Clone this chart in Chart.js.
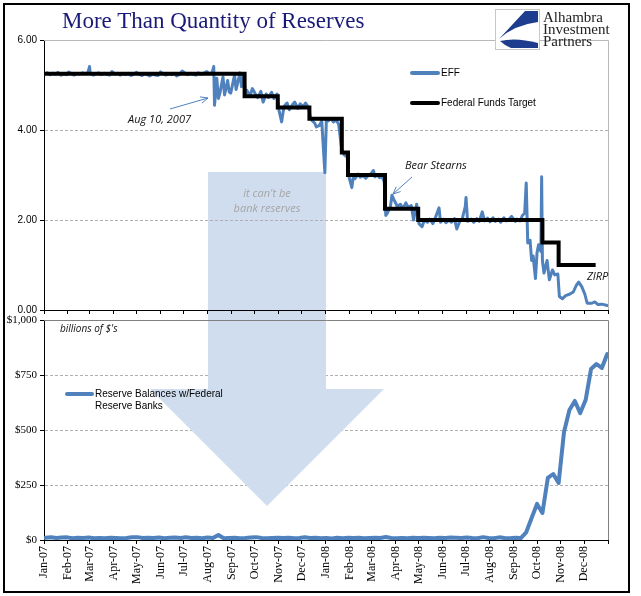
<!DOCTYPE html>
<html><head><meta charset="utf-8">
<script src="https://cdn.jsdelivr.net/npm/chart.js@4.4.1/dist/chart.umd.min.js"></script>
<style>
html,body{margin:0;padding:0;background:#fff;}
#wrap{position:relative;width:641px;height:596px;overflow:hidden;background:#fff;}
#frame{position:absolute;left:3px;top:3px;width:627px;height:590px;border:2px solid #000;box-sizing:border-box;pointer-events:none;z-index:5;}
canvas{position:absolute;left:0;}
#cTop{top:0;z-index:2;}
#cBot{top:306px;z-index:1;}
.t{position:absolute;white-space:nowrap;z-index:4;}
.lg{font-family:"Liberation Sans",Arial,sans-serif;font-size:10px;color:#000;line-height:12px;}
.an{font-family:"Open Sans",sans-serif;font-style:italic;font-size:11px;color:#111;line-height:14px;}
.sw{position:absolute;height:4px;border-radius:2px;z-index:4;}
</style>
</head><body>
<div id="wrap">
  <canvas id="cBot" width="641" height="290"></canvas>
  <canvas id="cTop" width="641" height="320"></canvas>

  <div class="t" style="left:62px;top:9px;font-family:'Liberation Serif',serif;font-size:23px;line-height:23px;color:#1a1a78;">More Than Quantity of Reserves</div>

  <div class="t" style="left:495px;top:9px;width:45px;height:41px;background:#fff;border:1px solid #c8c8c8;box-sizing:border-box;">
    <svg width="43" height="39" viewBox="0 0 43 39" style="position:absolute;left:0;top:0">
      <path d="M29,1 L42,1 L42,12 Q18,15 3,29 Z" fill="#1f3d8f"/>
      <path d="M4,31 Q20,27 42,33 L42,38 L15,38 Q8,35 4,31 Z" fill="#1f3d8f"/>
    </svg>
  </div>
  <div class="t" style="left:543px;top:11px;font-family:'Liberation Serif',serif;font-size:15px;line-height:12px;color:#222;">Alhambra<br>Investment<br>Partners</div>

  <div class="sw" style="left:410px;top:71px;width:30px;background:#4f81bd;"></div>
  <div class="t lg" style="left:441px;top:67px;">EFF</div>
  <div class="sw" style="left:410px;top:101px;width:30px;background:#000;"></div>
  <div class="t lg" style="left:441px;top:97px;">Federal Funds Target</div>

  <div class="t an" style="left:128px;top:112px;">Aug 10, 2007</div>
  <div class="t an" style="left:405px;top:158px;">Bear Stearns</div>
  <div class="t an" style="left:587px;top:269px;">ZIRP</div>
  <div class="t an" style="left:60px;top:321px;font-size:10px;">billions of $'s</div>
  <div class="t an" style="left:207px;top:185px;width:120px;text-align:center;color:#a5a5a5;line-height:15px;">it can't be<br>bank reserves</div>

  <div class="sw" style="left:65px;top:392px;width:29px;background:#4f81bd;"></div>
  <div class="t lg" style="left:95px;top:388px;">Reserve Balances w/Federal<br>Reserve Banks</div>

  <div id="frame"></div>
</div>
<script>
// ---------- DATA ----------
const monthLabels = ['Jan-07','Feb-07','Mar-07','Apr-07','May-07','Jun-07','Jul-07','Aug-07','Sep-07','Oct-07','Nov-07','Dec-07',
                     'Jan-08','Feb-08','Mar-08','Apr-08','May-08','Jun-08','Jul-08','Aug-08','Sep-08','Oct-08','Nov-08','Dec-08'];
const rateTickLabels = ['0.00','2.00','4.00','6.00'];
const reserveTickLabels = ['$0','$250','$500','$750','$1,000'];

const targetDates  = ['2007-01-01','2007-09-18','2007-10-31','2007-12-11','2008-01-22','2008-01-30','2008-03-18','2008-04-30','2008-10-08','2008-10-29','2008-12-16'];
const targetValues = [5.25,4.75,4.50,4.25,3.50,3.00,2.25,2.00,1.50,1.00,1.00];

const effDates = [
'2007-01-02','2007-01-05','2007-01-09','2007-01-12','2007-01-16','2007-01-19','2007-01-23','2007-01-26','2007-01-30',
'2007-02-02','2007-02-06','2007-02-09','2007-02-13','2007-02-16','2007-02-20','2007-02-23','2007-02-27',
'2007-03-01','2007-03-02','2007-03-06','2007-03-09','2007-03-13','2007-03-16','2007-03-20','2007-03-23','2007-03-27','2007-03-30',
'2007-04-03','2007-04-06','2007-04-10','2007-04-13','2007-04-17','2007-04-20','2007-04-24','2007-04-27',
'2007-05-01','2007-05-04','2007-05-08','2007-05-11','2007-05-15','2007-05-18','2007-05-22','2007-05-25','2007-05-29',
'2007-06-01','2007-06-05','2007-06-08','2007-06-12','2007-06-15','2007-06-19','2007-06-22','2007-06-26','2007-06-29',
'2007-07-03','2007-07-06','2007-07-10','2007-07-13','2007-07-17','2007-07-20','2007-07-24','2007-07-27','2007-07-31',
'2007-08-03','2007-08-07','2007-08-09','2007-08-10','2007-08-13','2007-08-15','2007-08-17','2007-08-21','2007-08-23','2007-08-27','2007-08-29','2007-08-31',
'2007-09-05','2007-09-07','2007-09-12','2007-09-14','2007-09-17','2007-09-19','2007-09-21','2007-09-25','2007-09-28',
'2007-10-02','2007-10-05','2007-10-09','2007-10-12','2007-10-16','2007-10-19','2007-10-23','2007-10-26','2007-10-30',
'2007-11-01','2007-11-05','2007-11-08','2007-11-12','2007-11-15','2007-11-19','2007-11-22','2007-11-26','2007-11-29',
'2007-12-03','2007-12-06','2007-12-10','2007-12-12','2007-12-14','2007-12-18','2007-12-20','2007-12-24','2007-12-27','2007-12-31',
'2008-01-02','2008-01-04','2008-01-08','2008-01-11','2008-01-15','2008-01-18','2008-01-22','2008-01-25','2008-01-29','2008-01-31',
'2008-02-04','2008-02-06','2008-02-08','2008-02-12','2008-02-15','2008-02-19','2008-02-22','2008-02-26','2008-02-29',
'2008-03-03','2008-03-05','2008-03-07','2008-03-11','2008-03-13','2008-03-17','2008-03-19','2008-03-21','2008-03-25','2008-03-27','2008-03-31',
'2008-04-03','2008-04-07','2008-04-10','2008-04-14','2008-04-17','2008-04-21','2008-04-24','2008-04-28',
'2008-05-01','2008-05-05','2008-05-08','2008-05-12','2008-05-15','2008-05-19','2008-05-22','2008-05-27','2008-05-29',
'2008-06-02','2008-06-05','2008-06-09','2008-06-12','2008-06-16','2008-06-19','2008-06-23','2008-06-26','2008-06-30',
'2008-07-01','2008-07-03','2008-07-08','2008-07-11','2008-07-15','2008-07-18','2008-07-22','2008-07-25','2008-07-29',
'2008-08-01','2008-08-05','2008-08-08','2008-08-12','2008-08-15','2008-08-19','2008-08-22','2008-08-26','2008-08-29',
'2008-09-03','2008-09-05','2008-09-09','2008-09-12','2008-09-15','2008-09-17','2008-09-19','2008-09-22','2008-09-24','2008-09-26','2008-09-29',
'2008-10-01','2008-10-03','2008-10-06','2008-10-07','2008-10-08','2008-10-10','2008-10-14','2008-10-17','2008-10-21','2008-10-24','2008-10-28','2008-10-30',
'2008-11-03','2008-11-07','2008-11-12','2008-11-17','2008-11-21','2008-11-24','2008-11-28',
'2008-12-02','2008-12-05','2008-12-11','2008-12-15','2008-12-19','2008-12-24','2008-12-31'
];
const effValues = [
5.24,5.27,5.23,5.26,5.24,5.28,5.22,5.25,5.23,
5.29,5.25,5.22,5.26,5.24,5.27,5.25,5.28,
5.41,5.26,5.22,5.25,5.27,5.23,5.26,5.24,5.22,5.30,
5.24,5.26,5.22,5.25,5.23,5.26,5.21,5.24,
5.28,5.24,5.21,5.25,5.23,5.20,5.24,5.22,5.21,
5.29,5.24,5.22,5.25,5.23,5.26,5.20,5.24,5.31,
5.26,5.23,5.26,5.24,5.22,5.27,5.24,5.26,5.30,
5.25,5.28,5.41,4.55,5.15,4.70,4.82,5.18,4.78,5.10,4.85,4.82,
5.22,4.90,5.27,4.96,5.22,4.80,4.88,4.76,4.92,
4.80,4.72,4.86,4.62,4.80,4.72,4.84,4.70,4.80,
4.48,4.18,4.52,4.60,4.45,4.56,4.62,4.48,4.58,
4.52,4.60,4.50,4.30,4.22,4.15,4.07,4.10,4.20,3.05,
4.25,4.20,4.26,4.18,4.22,4.12,3.55,3.45,3.40,2.98,
2.72,2.98,2.92,3.02,2.95,2.98,2.93,3.00,3.03,
3.10,2.96,3.01,2.94,3.00,2.85,2.10,2.15,2.30,2.55,2.40,
2.30,2.35,2.25,2.38,2.28,2.32,2.00,2.35,
1.92,1.85,2.00,1.95,2.02,1.92,2.04,2.27,1.95,
2.02,1.94,2.00,1.95,2.03,1.80,1.98,2.02,2.30,
2.50,1.97,2.02,1.95,2.03,1.97,2.18,1.98,2.04,
1.96,2.05,1.97,2.02,1.95,2.05,1.98,2.02,2.08,
1.97,2.02,1.98,2.10,2.15,2.82,1.49,1.55,1.10,1.20,0.70,
1.27,1.45,1.30,2.96,1.10,0.82,1.10,0.67,0.89,0.78,0.80,0.30,
0.25,0.32,0.35,0.40,0.55,0.62,0.52,
0.35,0.15,0.15,0.18,0.12,0.13,0.10
];

const reserveDates = [
'2007-01-03','2007-01-10','2007-01-17','2007-01-24','2007-01-31','2007-02-07','2007-02-14','2007-02-21','2007-02-28',
'2007-03-07','2007-03-14','2007-03-21','2007-03-28','2007-04-04','2007-04-11','2007-04-18','2007-04-25',
'2007-05-02','2007-05-09','2007-05-16','2007-05-23','2007-05-30','2007-06-06','2007-06-13','2007-06-20','2007-06-27',
'2007-07-04','2007-07-11','2007-07-18','2007-07-25','2007-08-01','2007-08-08','2007-08-15','2007-08-22','2007-08-29',
'2007-09-05','2007-09-12','2007-09-19','2007-09-26','2007-10-03','2007-10-10','2007-10-17','2007-10-24','2007-10-31',
'2007-11-07','2007-11-14','2007-11-21','2007-11-28','2007-12-05','2007-12-12','2007-12-19','2007-12-26',
'2008-01-02','2008-01-09','2008-01-16','2008-01-23','2008-01-30','2008-02-06','2008-02-13','2008-02-20','2008-02-27',
'2008-03-05','2008-03-12','2008-03-19','2008-03-26','2008-04-02','2008-04-09','2008-04-16','2008-04-23','2008-04-30',
'2008-05-07','2008-05-14','2008-05-21','2008-05-28','2008-06-04','2008-06-11','2008-06-18','2008-06-25',
'2008-07-02','2008-07-09','2008-07-16','2008-07-23','2008-07-30','2008-08-06','2008-08-13','2008-08-20','2008-08-27',
'2008-09-03','2008-09-10','2008-09-17','2008-09-24','2008-10-01','2008-10-08','2008-10-15','2008-10-22','2008-10-29',
'2008-11-05','2008-11-12','2008-11-19','2008-11-26','2008-12-03','2008-12-10','2008-12-17','2008-12-24','2008-12-31'
];
const reserveValues = [
10,12,9,11,12, 8,10,9,11,
8,9,8,10, 9,8,9,12,
13,9,10,9,11, 8,10,11,9,
12,9,10,8, 11,9,23,8,9,
10,8,9,11, 13,9,8,9,10,
9,10,8,9, 12,9,10,8,
9,7,10,8,10, 9,10,8,9,
10,9,14,9, 8,9,8,10,9,
10,9,8,10, 9,11,10,9,
11,9,8,13,9, 8,12,9,8,
10,9,35,100, 164,123,282,300,259,
491,591,632,577, 636,777,800,782,845
];

// ---------- HELPERS ----------
const T0 = Date.UTC(2007,0,1), DAY = 86400000;
const dayOf = s => (Date.parse(s) - T0) / DAY;
const xMax = (Date.UTC(2009,0,1) - T0) / DAY;
const monthTicks = [];
for (let m = 0; m <= 24; m++) monthTicks.push((Date.UTC(2007, m, 1) - T0) / DAY);
const pts = (dates, vals) => dates.map((d, i) => ({x: dayOf(d), y: vals[i]}));

Chart.defaults.font.family = '"Liberation Sans", Arial, sans-serif';
Chart.defaults.color = '#000';

function arrowShape(offsetY, hook, clipTop, clipBottom) {
  return { id: 'bigArrow', [hook](chart) {
    const c = chart.ctx;
    c.save();
    c.beginPath(); c.rect(0, clipTop - offsetY, chart.width, clipBottom - clipTop); c.clip();
    c.translate(0, -offsetY);
    c.fillStyle = '#d0ddee';
    c.beginPath();
    c.moveTo(208,172); c.lineTo(326,172); c.lineTo(326,389); c.lineTo(384,389);
    c.lineTo(267,506); c.lineTo(150,389); c.lineTo(208,389); c.closePath();
    c.fill();
    c.restore();
  }};
}
const plotFrame = (color) => ({ id: 'plotFrame', afterDraw(chart) {
  const {left, right, top, bottom} = chart.chartArea;
  const c = chart.ctx;
  c.save(); c.strokeStyle = color; c.lineWidth = 1;
  c.beginPath(); c.moveTo(left, Math.round(top) + 0.5); c.lineTo(Math.round(right) + 0.5, Math.round(top) + 0.5);
  c.lineTo(Math.round(right) + 0.5, bottom); c.stroke(); c.restore();
}});
function arrowLine(c, x1, y1, x2, y2) {
  const a = Math.atan2(y2 - y1, x2 - x1), L = 8, w = 0.42;
  c.beginPath(); c.moveTo(x1, y1); c.lineTo(x2, y2);
  c.moveTo(x2 - L*Math.cos(a - w), y2 - L*Math.sin(a - w)); c.lineTo(x2, y2);
  c.lineTo(x2 - L*Math.cos(a + w), y2 - L*Math.sin(a + w)); c.stroke();
}
const callouts = { id: 'callouts', afterDraw(chart) {
  const c = chart.ctx; c.save(); c.strokeStyle = '#4f81bd'; c.lineWidth = 1;
  arrowLine(c, 170, 109, 208, 98);
  arrowLine(c, 412, 177, 393, 194);
  c.restore();
}};

// ---------- TOP CHART ----------
new Chart(document.getElementById('cTop'), {
  type: 'line',
  data: { datasets: [
    { label: 'Federal Funds Target', data: pts(targetDates, targetValues), borderColor: '#000', borderWidth: 4,
      stepped: true, pointRadius: 0, borderCapStyle: 'butt' },
    { label: 'EFF', data: pts(effDates, effValues), borderColor: '#4f81bd', borderWidth: 3, pointRadius: 0,
      tension: 0, borderJoinStyle: 'round', borderCapStyle: 'round' }
  ]},
  options: {
    responsive: false, animation: false,
    layout: { padding: { top: 40, right: 33, left: 0, bottom: 0 } },
    plugins: { legend: { display: false }, tooltip: { enabled: false } },
    scales: {
      x: { type: 'linear', min: 0, max: xMax,
        afterBuildTicks: s => { s.ticks = monthTicks.map(v => ({ value: v })); },
        afterFit: s => { s.height = 10; },
        ticks: { display: false },
        grid: { drawOnChartArea: false, drawTicks: true, tickLength: 4, tickColor: '#000', tickWidth: 1 },
        border: { color: '#000', width: 1 } },
      y: { min: 0, max: 6,
        afterBuildTicks: s => { s.ticks = rateTickLabels.map((l, i) => ({ value: i * 2 })); },
        afterFit: s => { s.width = 44; },
        ticks: { padding: 3, font: { size: 10 }, callback: (v, i) => rateTickLabels[i] },
        grid: { color: c => (c.tick && (c.tick.value === 2 || c.tick.value === 4)) ? '#b0b0b0' : 'rgba(0,0,0,0)',
                tickLength: 4, tickColor: '#000', lineWidth: 1 },
        border: { color: '#000', width: 1, dash: [3, 2] } }
    }
  },
  plugins: [arrowShape(0, 'beforeDraw', 0, 316), plotFrame('#b8b8b8'), callouts]
});

// ---------- BOTTOM CHART ----------
new Chart(document.getElementById('cBot'), {
  type: 'line',
  data: { datasets: [
    { label: 'Reserve Balances w/Federal Reserve Banks', data: pts(reserveDates, reserveValues), borderColor: '#4f81bd',
      borderWidth: 4, pointRadius: 0, tension: 0, borderJoinStyle: 'round', borderCapStyle: 'round' }
  ]},
  options: {
    responsive: false, animation: false,
    layout: { padding: { top: 14, right: 33, left: 0, bottom: 0 } },
    plugins: { legend: { display: false }, tooltip: { enabled: false } },
    scales: {
      x: { type: 'linear', min: 0, max: xMax,
        afterBuildTicks: s => { s.ticks = monthTicks.map(v => ({ value: v })); },
        afterFit: s => { s.height = 56; },
        ticks: { autoSkip: false, maxRotation: 90, minRotation: 90, padding: 2,
                 font: { family: '"Liberation Serif", serif', size: 12 },
                 callback: (v, i) => monthLabels[i] || '' },
        grid: { drawOnChartArea: false, drawTicks: true, tickLength: 4, tickColor: '#000' },
        border: { color: '#000', width: 1 } },
      y: { min: 0, max: 1000,
        afterBuildTicks: s => { s.ticks = reserveTickLabels.map((l, i) => ({ value: i * 250 })); },
        afterFit: s => { s.width = 44; },
        ticks: { padding: 3, font: { family: '"Liberation Serif", serif', size: 11 }, callback: (v, i) => reserveTickLabels[i] },
        grid: { color: c => (c.tick && c.tick.value > 0 && c.tick.value < 1000) ? '#b0b0b0' : 'rgba(0,0,0,0)',
                tickLength: 4, tickColor: '#000' },
        border: { color: '#000', width: 1, dash: [3, 2] } }
    }
  },
  plugins: [arrowShape(306, 'beforeDatasetsDraw', 316, 600), plotFrame('#808080')]
});
</script>
</body></html>
